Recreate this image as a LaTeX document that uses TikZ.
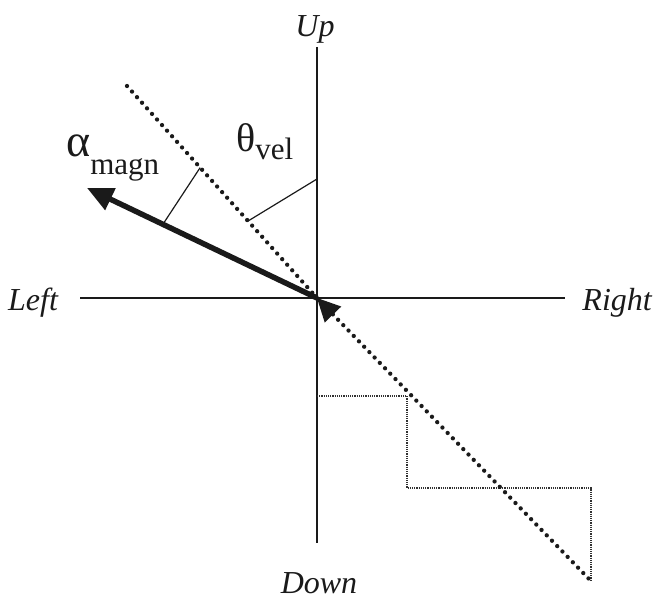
\documentclass[tikz,border=0pt]{standalone}
\usepackage{fontspec}
\setmainfont{Liberation Serif}
\usetikzlibrary{arrows.meta,calc}
\definecolor{ink}{HTML}{1A1A1A}
\begin{document}
\begin{tikzpicture}[x=1pt,y=-1pt,
  axisline/.style={draw=ink, line width=1.5pt},
  dirlabel/.style={font=\fontsize{32}{32}\selectfont\itshape, text=ink, inner sep=0pt},
  greeklabel/.style={font=\fontsize{40}{40}\selectfont, text=ink, inner sep=0pt},
  dotline/.style={draw=ink, line width=4.3pt, line cap=round, dash pattern=on 0pt off 7.5pt},
  fineline/.style={draw=ink!90, line width=1.2pt, dash pattern=on 1.2pt off 1pt},
  anglemark/.style={draw=ink, line width=1.2pt},
  vecarrow/.style={draw=ink, line width=5.5pt, -{Triangle[length=26pt,width=23pt]}}
]
\useasboundingbox (0,0) rectangle (655,601);
% key points
\coordinate (O) at (317,298);
\coordinate (Utop) at (317,47);
\coordinate (Dbot) at (317,543);
\coordinate (Lend) at (80,298);
\coordinate (Rend) at (565,298);
\coordinate (D1) at (127,86);
\coordinate (D2) at (590,580);
\coordinate (A) at (87,188);
% staircase
\coordinate (s0) at (317,396);
\coordinate (s1) at (407,396);
\coordinate (s2) at (407,488);
\coordinate (s3) at (591,488);
\coordinate (s4) at (591,580);
% axes
\draw[axisline] (Utop) -- (Dbot);
\draw[axisline] (Lend) -- (Rend);
% staircase (thin dotted)
\draw[fineline] (s0) -- (s1) -- (s2) -- (s3) -- (s4);
% dotted diagonal
\draw[dotline] (D1) -- (O) -- (D2);
% angle marks
\coordinate (m1a) at ($(O)!0.67!(A)$);
\coordinate (m1b) at ($(O)!0.615!(D1)$);
\coordinate (m2a) at ($(O)!0.363!(D1)$);
\coordinate (m2b) at (317,179);
\draw[anglemark] (m1a) -- (m1b);
\draw[anglemark] (m2a) -- (m2b);
% bold vector
\draw[vecarrow] (O) -- (A);
% arrowhead at origin
\coordinate (hb) at ($(O)!23pt!(D2)$);
\coordinate (h1) at ($(hb)!11.5pt!90:(D2)$);
\coordinate (h2) at ($(hb)!11.5pt!-90:(D2)$);
\fill[ink] (O) -- (h1) -- (h2) -- cycle;
% labels
\node[dirlabel, anchor=base] (up) at (315,37) {Up};
\node[dirlabel, anchor=base] (down) at (319,593) {Down};
\node[dirlabel, anchor=base west] (left) at (8,310) {Left};
\node[dirlabel, anchor=base east] (right) at (652,310) {Right};
\node[greeklabel, anchor=base west] (alpha) at (66,157) {\fontsize{46}{46}\selectfont α\raisebox{-18pt}{\fontsize{31}{31}\selectfont magn}};
\node[greeklabel, anchor=base west] (theta) at (236,152) {θ\raisebox{-8pt}{\fontsize{31}{31}\selectfont vel}};
\end{tikzpicture}
\end{document}
